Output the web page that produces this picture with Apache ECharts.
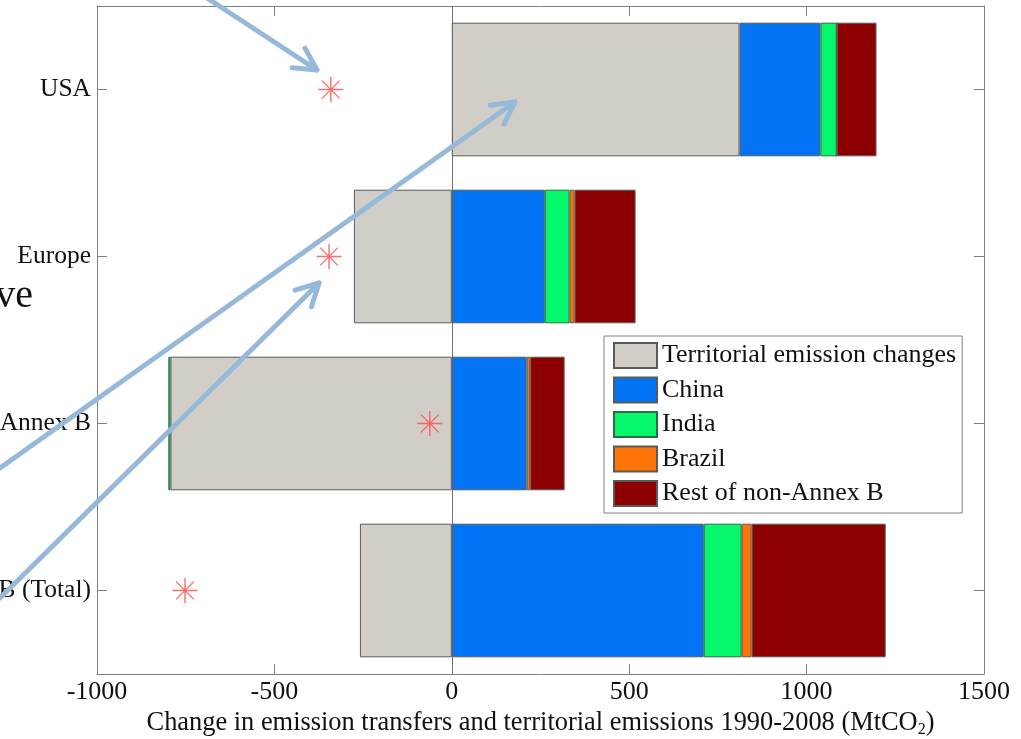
<!DOCTYPE html>
<html>
<head>
<meta charset="utf-8">
<script src="https://cdn.jsdelivr.net/npm/echarts@6/dist/echarts.min.js"></script>
<style>
html,body{margin:0;padding:0;background:#fff;}
#c{width:1021px;height:739px;}
</style>
</head>
<body>
<div id="c"></div>
<script>
// ---- data ----
const categories = ['USA', 'Europe', 'Annex B', 'B (Total)'];
const seriesNames = ['Territorial emission changes', 'China', 'India', 'Brazil', 'Rest of non-Annex B'];
const territorial = [811, -276, -793, -259];
const china = [228, 262, 211, 710];
const india = [46, 70, -6, 107];
const brazil = [0, 14, 10, 28];
const rest = [112, 172, 97, 378];
const transferStars = [-341, -346, -62, -752];
const xMin = -1000, xMax = 1500, xStep = 500;
const axisTitle = 'Change in emission transfers and territorial emissions 1990-2008 (MtCO{sub|2})';
const sideText = 've';

// ---- styles ----
const colors = ['#d1cdc7', '#0474f6', '#06f76b', '#ff7404', '#8c0000'];
const font = 'Liberation Serif';
const axisGray = '#808080';

const chart = echarts.init(document.getElementById('c'));

const values = [territorial, china, india, brazil, rest];
const barSeries = seriesNames.map((n, i) => ({
  name: n,
  type: 'bar',
  stack: 'total',
  barWidth: '80%',
  data: values[i],
  itemStyle: { color: colors[i], borderColor: i === 2 ? '#2d6b45' : '#5a5a5a', borderWidth: 1 },
  emphasis: { disabled: true },
  z: 2
}));

// arrow annotations (slide overlay)
function arrow(sx, sy, tx, ty) {
  const ang = Math.atan2(ty - sy, tx - sx);
  const L = 25, h = 28 * Math.PI / 180;
  const a1 = [tx - L * Math.cos(ang - h), ty - L * Math.sin(ang - h)];
  const a2 = [tx - L * Math.cos(ang + h), ty - L * Math.sin(ang + h)];
  const st = { stroke: '#96b9d9', lineWidth: 5, lineCap: 'round', lineJoin: 'round', fill: null };
  return [
    { type: 'polyline', shape: { points: [[sx, sy], [tx, ty]] }, style: st, z: 100, silent: true },
    { type: 'polyline', shape: { points: [a1, [tx, ty], a2] }, style: st, z: 100, silent: true }
  ];
}

const asterisk = 'path://M0 10 L20 10 M10 0 L10 20 M2.9 2.9 L17.1 17.1 M17.1 2.9 L2.9 17.1';

const option = {
  animation: false,
  backgroundColor: '#fff',
  textStyle: { fontFamily: font },
  grid: { left: 97, right: 37, top: 6, bottom: 65, containLabel: false, outerBoundsMode: 'none' },
  legend: {
    data: seriesNames,
    orient: 'vertical',
    left: 604,
    top: 336,
    itemWidth: 43,
    itemHeight: 25,
    itemGap: 7.5,
    padding: [6, 6, 6, 9],
    backgroundColor: '#fff',
    borderColor: '#808080',
    borderWidth: 1,
    borderRadius: 0,
    textStyle: { fontFamily: font, fontSize: 26, color: '#111' },
    selectedMode: false,
    icon: 'rect',
    z: 10
  },
  xAxis: [{
    type: 'value',
    min: xMin, max: xMax, interval: xStep,
    position: 'bottom',
    axisLine: { show: true, onZero: false, lineStyle: { color: axisGray, width: 1 } },
    axisTick: { show: true, inside: true, length: 10, lineStyle: { color: axisGray } },
    splitLine: { show: false },
    axisLabel: { fontFamily: font, fontSize: 26, color: '#111', margin: 5, formatter: v => String(v) },
    name: axisTitle,
    nameLocation: 'middle',
    nameGap: 31,
    nameTextStyle: {
      fontFamily: font, fontSize: 26.4, color: '#111',
      rich: { sub: { fontFamily: font, fontSize: 16, color: '#111', padding: [14, 0, 0, 0] } }
    }
  }, {
    type: 'value',
    min: xMin, max: xMax, interval: xStep,
    position: 'top',
    axisLine: { show: true, onZero: false, lineStyle: { color: axisGray, width: 1 } },
    axisTick: { show: true, inside: true, length: 10, lineStyle: { color: axisGray } },
    splitLine: { show: false },
    axisLabel: { show: false }
  }],
  yAxis: [{
    type: 'category',
    data: categories,
    inverse: true,
    position: 'left',
    axisLine: { show: true, onZero: false, lineStyle: { color: axisGray, width: 1 } },
    axisTick: { show: true, inside: true, length: 10, alignWithLabel: true, lineStyle: { color: axisGray } },
    axisLabel: { fontFamily: font, fontSize: 25.5, color: '#111', margin: 6 }
  }, {
    type: 'category',
    data: categories,
    inverse: true,
    position: 'right',
    axisLine: { show: true, onZero: false, lineStyle: { color: axisGray, width: 1 } },
    axisTick: { show: true, inside: true, length: 10, alignWithLabel: true, lineStyle: { color: axisGray } },
    axisLabel: { show: false }
  }],
  series: barSeries.concat([{
    name: 'transfers',
    type: 'scatter',
    data: transferStars.map((v, i) => [v, categories[i]]),
    symbol: asterisk,
    symbolSize: 25,
    itemStyle: { color: 'rgba(0,0,0,0)', borderColor: '#ff4a4a', borderWidth: 1.4 },
    emphasis: { disabled: true },
    z: 5,
    markLine: {
      silent: true,
      symbol: 'none',
      label: { show: false },
      lineStyle: { color: '#707070', width: 1, type: 'solid' },
      data: [{ xAxis: 0 }],
      z: 1
    }
  }]),
  graphic: [].concat(
    arrow(207, -2, 317, 70),
    arrow(0, 468, 515, 102),
    arrow(0, 598, 319, 283),
    [{ type: 'text', right: 1021 - 33, top: 276, silent: true,
       style: { text: sideText, font: '40px "Liberation Serif"', fill: '#111', textAlign: 'right' }, z: 100 }]
  )
};
chart.setOption(option);
</script>
</body>
</html>
